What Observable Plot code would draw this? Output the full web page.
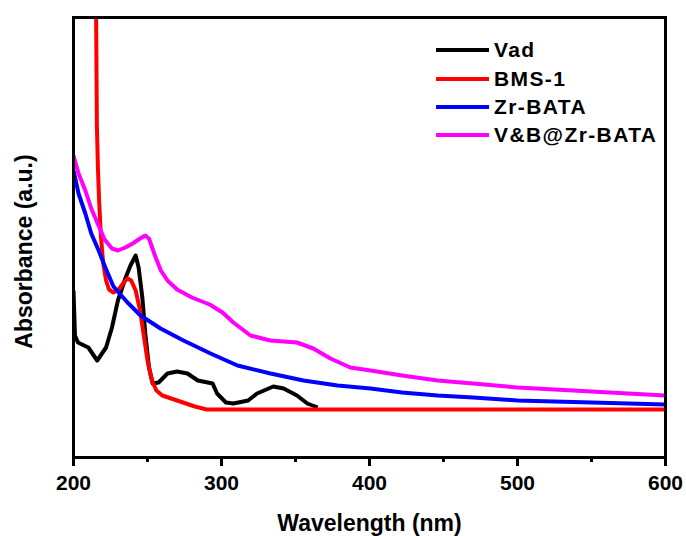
<!DOCTYPE html>
<html><head><meta charset="utf-8">
<script src="https://cdn.jsdelivr.net/npm/d3@7"></script>
<script src="https://cdn.jsdelivr.net/npm/@observablehq/plot@0.6"></script>
<style>
body{margin:0;background:#fff}
#wrap{position:relative;width:686px;height:536px;font-family:Arial,"Liberation Sans",sans-serif}
#legend{position:absolute;left:436px;top:36px}
.row{display:flex;align-items:center;height:28.4px}
.sw{width:53px;height:4px;margin-right:5px}
.lab{font-size:21px;font-weight:bold;color:#000;letter-spacing:1.4px}
</style>
</head><body>
<div id="wrap"></div>
<script>
const seriesNames = ["Vad", "BMS-1", "Zr-BATA", "V&B@Zr-BATA"];
const seriesColors = ["#000000", "#ff0000", "#0000ff", "#ff00ff"];

const vadX = [200, 201, 203, 210, 216, 222, 226, 230, 235, 238.5, 242, 244, 246.5, 248.5, 251, 253.5, 257.5, 263.5, 270, 277, 284, 294, 297, 303, 308, 318, 324, 335, 342, 351, 358, 365];
const vadY = [1.67, 1.22, 1.15, 1.10, 0.97, 1.10, 1.30, 1.57, 1.79, 1.92, 2.02, 1.90, 1.60, 1.24, 0.90, 0.74, 0.75, 0.84, 0.86, 0.84, 0.77, 0.74, 0.64, 0.55, 0.54, 0.57, 0.64, 0.71, 0.69, 0.62, 0.54, 0.50];

const bmsX = [215, 215.8, 216.5, 217.3, 218.5, 220, 222, 224, 227, 230, 234, 236.5, 239, 242, 245, 247.5, 250, 253, 256, 260, 266, 274, 282, 290, 350, 450, 600];
const bmsY = [5.0, 3.32, 2.90, 2.57, 2.22, 1.95, 1.77, 1.68, 1.65, 1.67, 1.75, 1.79, 1.77, 1.67, 1.47, 1.22, 0.97, 0.77, 0.67, 0.62, 0.59, 0.55, 0.51, 0.48, 0.48, 0.48, 0.48];

const zrX = [200, 203.4, 208, 212, 217, 221.5, 227, 236.5, 245.3, 258.8, 274.3, 292.6, 310.8, 333.1, 355.4, 378.4, 400.7, 422, 446, 470, 500, 550, 600];
const zrY = [2.87, 2.64, 2.44, 2.24, 2.07, 1.90, 1.71, 1.55, 1.42, 1.29, 1.17, 1.04, 0.92, 0.84, 0.77, 0.72, 0.69, 0.65, 0.62, 0.60, 0.57, 0.55, 0.53];

const vbX = [200, 203.4, 208, 212, 216.9, 221, 226, 230, 235, 240, 245, 248.5, 251, 255, 259, 263.5, 270, 280, 292, 300.7, 308, 319.6, 333, 351, 362, 373.6, 387, 400.7, 422, 446, 470, 500, 550, 600];
const vbY = [3.02, 2.84, 2.67, 2.49, 2.32, 2.18, 2.09, 2.07, 2.10, 2.14, 2.19, 2.22, 2.19, 2.02, 1.87, 1.77, 1.68, 1.60, 1.53, 1.45, 1.35, 1.22, 1.17, 1.15, 1.09, 0.99, 0.90, 0.87, 0.82, 0.77, 0.74, 0.70, 0.66, 0.62];

const xMajor = [200, 300, 400, 500, 600];
const xMinor = [250, 350, 450, 550];
const xTitle = "Wavelength (nm)";
const yTitle = "Absorbance (a.u.)";

const allX = [vadX, bmsX, zrX, vbX];
const allY = [vadY, bmsY, zrY, vbY];

const lineMarks = allX.map((xs, i) => {
  const pts = xs.map((x, j) => ({x, y: allY[i][j]}));
  return Plot.line(pts, {x: "x", y: "y", stroke: seriesColors[i], strokeWidth: 4, strokeLinejoin: "round", strokeLinecap: "butt", clip: true});
});

const chart = Plot.plot({
  width: 686, height: 536,
  marginLeft: 73, marginRight: 21, marginTop: 17, marginBottom: 79,
  style: {fontFamily: 'Arial, "Liberation Sans", sans-serif', background: "white", color: "black"},
  x: {domain: [200, 600]},
  y: {domain: [0, 4.4], axis: null},
  marks: [
    ...lineMarks,
    Plot.frame({stroke: "black", strokeWidth: 3}),
    Plot.axisX(xMajor, {tickSize: 9, strokeWidth: 3, tickPadding: 9, fontSize: 21, fontWeight: "bold", label: null, tickFormat: d => String(d)}),
    Plot.axisX(xMinor, {tickSize: 5, strokeWidth: 3, tickFormat: () => "", label: null}),
    Plot.text([xTitle], {frameAnchor: "bottom", text: d => d, textAnchor: "middle", lineAnchor: "middle", dy: 66, fontSize: 23, fontWeight: "bold"}),
    Plot.text([yTitle], {frameAnchor: "left", text: d => d, textAnchor: "middle", lineAnchor: "middle", rotate: -90, dx: -49, dy: 14, fontSize: 23, fontWeight: "bold"})
  ]
});

const wrap = document.getElementById("wrap");
wrap.appendChild(chart);
const legend = document.createElement("div");
legend.id = "legend";
seriesNames.forEach((name, i) => {
  const row = document.createElement("div");
  row.className = "row";
  const sw = document.createElement("span");
  sw.className = "sw";
  sw.style.background = seriesColors[i];
  const lab = document.createElement("span");
  lab.className = "lab";
  lab.textContent = name;
  row.appendChild(sw);
  row.appendChild(lab);
  legend.appendChild(row);
});
wrap.appendChild(legend);
</script>
</body></html>
